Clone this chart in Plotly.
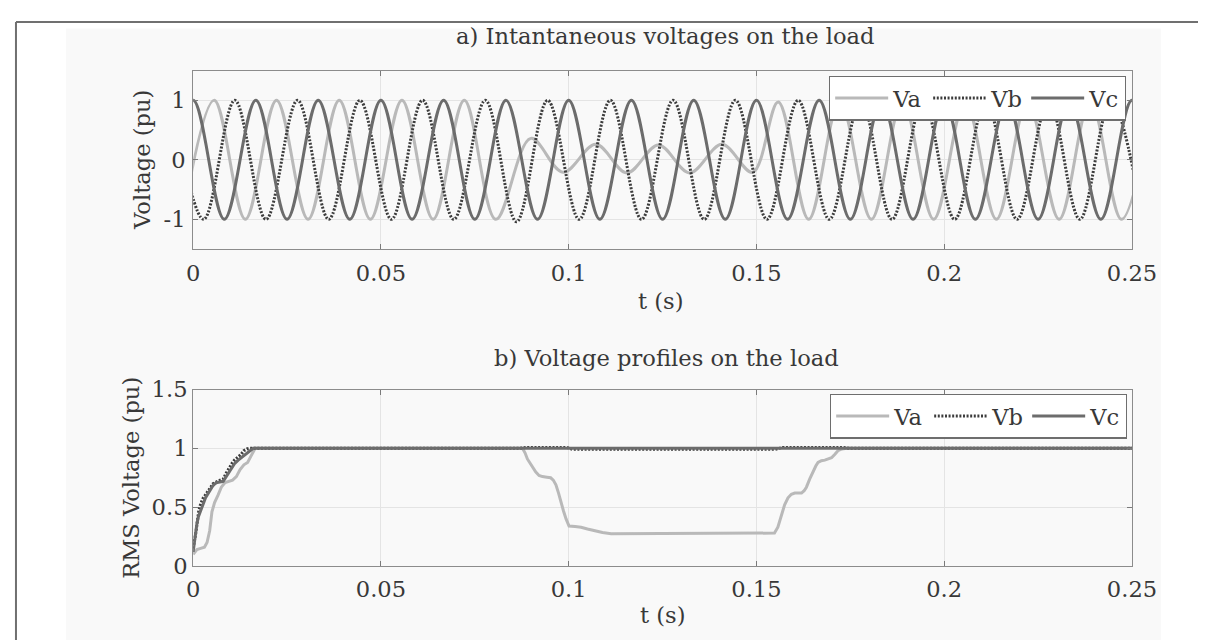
import plotly.graph_objects as go

# ---------------- data ----------------
# a) instantaneous voltages: times (s) and values (pu) of successive peaks / troughs
va_t = [-0.0028, 0.0056, 0.0139, 0.0222, 0.0306, 0.0389, 0.0472, 0.0556, 0.0639, 0.0722,
        0.0806, 0.0899, 0.0985, 0.1072, 0.1155, 0.1239, 0.1322, 0.1408, 0.1490, 0.1558,
        0.1639, 0.1722, 0.1806, 0.1889, 0.1972, 0.2056, 0.2139, 0.2222, 0.2306, 0.2389,
        0.2472, 0.2556]
va_v = [-1, 1, -1, 1, -1, 1, -1, 1, -1, 1,
        -1, 0.36, -0.21, 0.26, -0.22, 0.25, -0.22, 0.26, -0.21, 0.97,
        -1, 1, -1, 1, -1, 1, -1, 1, -1, 1,
        -1, 1]

vb_t = [-0.0056, 0.0028, 0.0111, 0.0194, 0.0278, 0.0361, 0.0444, 0.0528, 0.0611, 0.0694,
        0.0778, 0.0861, 0.0944, 0.1028, 0.1111, 0.1194, 0.1278, 0.1361, 0.1444, 0.1528,
        0.1611, 0.1694, 0.1778, 0.1861, 0.1944, 0.2028, 0.2111, 0.2194, 0.2278, 0.2361,
        0.2444, 0.2528]
vb_v = [1, -1, 1, -1, 1, -1, 1, -1, 1, -1,
        1, -1.04, 1, -1, 1, -1, 1, -1, 1, -1,
        1, -1, 1, -1, 1, -1, 1, -1, 1, -1,
        1, -1]

vc_t = [-0.0083, 0.0, 0.0083, 0.0167, 0.0250, 0.0333, 0.0417, 0.0500, 0.0583, 0.0667,
        0.0750, 0.0833, 0.0917, 0.1000, 0.1083, 0.1167, 0.1250, 0.1333, 0.1417, 0.1500,
        0.1583, 0.1667, 0.1750, 0.1833, 0.1917, 0.2000, 0.2083, 0.2167, 0.2250, 0.2333,
        0.2417, 0.2500, 0.2583]
vc_v = [-1, 1, -1, 1, -1, 1, -1, 1, -1, 1,
        -1, 1, -1, 1, -1, 1, -1, 1, -1, 1,
        -1, 1, -1, 1, -1, 1, -1, 1, -1, 1,
        -1, 1, -1]

# b) RMS voltage profiles
rms_a_t = [0, 0.001, 0.002, 0.003, 0.0037, 0.0044, 0.005, 0.0057, 0.0066, 0.0075, 0.0085,
           0.0095, 0.0105, 0.0115, 0.0125, 0.0135, 0.0145, 0.0155, 0.0165, 0.0877, 0.0884,
           0.089, 0.0901, 0.0912, 0.0921, 0.093, 0.0942, 0.0952, 0.0959, 0.0966, 0.0973,
           0.0979, 0.0986, 0.0993, 0.1001, 0.1017, 0.1033, 0.1050, 0.1068, 0.109, 0.1113,
           0.1135, 0.1157, 0.1548, 0.1557, 0.1566, 0.1575, 0.1584, 0.1593, 0.1602, 0.162,
           0.1627, 0.1633, 0.1642, 0.1651, 0.1658, 0.1664, 0.1673, 0.1682, 0.170, 0.1709,
           0.1717, 0.1728, 0.174, 0.25]
rms_a_v = [0.1, 0.14, 0.15, 0.16, 0.2, 0.3, 0.46, 0.54, 0.6, 0.67, 0.71,
           0.72, 0.73, 0.76, 0.82, 0.86, 0.88, 0.94, 1.0, 1.0, 0.96,
           0.91, 0.85, 0.80, 0.77, 0.76, 0.755, 0.75, 0.73, 0.69, 0.62,
           0.545, 0.47, 0.40, 0.34, 0.335, 0.33, 0.315, 0.30, 0.285, 0.275,
           0.275, 0.28, 0.28, 0.33, 0.42, 0.52, 0.58, 0.61, 0.62, 0.62,
           0.64, 0.67, 0.74, 0.81, 0.85, 0.88, 0.895, 0.90, 0.92, 0.95,
           0.98, 0.995, 1.0, 1.0]

rms_b_t = [0, 0.0004, 0.0008, 0.0012, 0.0015, 0.002, 0.0027, 0.0034, 0.004, 0.0047,
           0.0053, 0.0065, 0.008, 0.0088, 0.0095, 0.0103, 0.011, 0.012, 0.0128, 0.0135,
           0.0143, 0.015, 0.087, 0.089, 0.0995, 0.101, 0.155, 0.157, 0.173, 0.175, 0.25]
rms_b_v = [0.15, 0.22, 0.3, 0.4, 0.47, 0.53, 0.58, 0.61, 0.64, 0.67,
           0.70, 0.72, 0.74, 0.79, 0.83, 0.87, 0.90, 0.93, 0.95, 0.98,
           0.995, 1.0, 1.0, 1.008, 1.008, 0.992, 0.992, 1.008, 1.008, 1.0, 1.0]

rms_c_t = [0, 0.0004, 0.0007, 0.001, 0.0014, 0.002, 0.0027, 0.0033, 0.004, 0.0046,
           0.0052, 0.0058, 0.0064, 0.008, 0.009, 0.0099, 0.011, 0.012, 0.0132, 0.0144,
           0.0152, 0.016, 0.25]
rms_c_v = [0.12, 0.22, 0.3, 0.36, 0.42, 0.48, 0.53, 0.58, 0.62, 0.65,
           0.68, 0.70, 0.71, 0.72, 0.77, 0.82, 0.87, 0.90, 0.93, 0.96,
           0.985, 1.0, 1.0]

x_ticks = [0, 0.05, 0.1, 0.15, 0.2, 0.25]
x_ticktext = ["0", "0.05", "0.1", "0.15", "0.2", "0.25"]
y1_ticks = [-1, 0, 1]
y1_ticktext = ["-1", "0", "1"]
y2_ticks = [0, 0.5, 1, 1.5]
y2_ticktext = ["0", "0.5", "1", "1.5"]
names = ["Va", "Vb", "Vc"]

# ---------------- styling ----------------
# observed mapping from figure pixels to the photographed picture
SX, OX = 0.973, 15.0
SY, OY = 0.957, 19.6
W, H = 1224, 648
FONT = "DejaVu Serif"
FS = 22.6
TXT = "#383838"
COL_A, COL_B, COL_C = "#b9b9b9", "#3c3c3c", "#6c6c6c"
DOT = "2px,1.6px"


def px_x(p):
    """target picture pixel -> paper x"""
    return ((p - OX) / SX) / W


def px_y(p):
    """target picture pixel -> paper y"""
    return 1 - ((p - OY) / SY) / H


fig = go.Figure()

styles = [dict(color=COL_A, width=3), dict(color=COL_B, width=3, dash=DOT),
          dict(color=COL_C, width=3)]

for tt, vv, nm, st in zip([va_t, vb_t, vc_t], [va_v, vb_v, vc_v], names, styles):
    fig.add_trace(go.Scatter(x=tt, y=vv, name=nm, mode="lines",
                             line=dict(shape="spline", smoothing=1, **st),
                             xaxis="x", yaxis="y", legend="legend"))

for tt, vv, nm, st in zip([rms_a_t, rms_b_t, rms_c_t], [rms_a_v, rms_b_v, rms_c_v], names, styles):
    fig.add_trace(go.Scatter(x=tt, y=vv, name=nm, mode="lines",
                             line=dict(shape="linear", **st),
                             xaxis="x2", yaxis="y2", legend="legend2"))

xdom = [px_x(193), px_x(1131)]
axis_common = dict(showgrid=True, gridcolor="#e4e4e4", gridwidth=1, zeroline=False,
                   showline=True, linecolor="#8c8c8c", linewidth=1.2, mirror="ticks",
                   ticks="inside", ticklen=5, tickcolor="#7a7a7a",
                   tickfont=dict(family=FONT, size=FS, color=TXT))

leg_common = dict(orientation="h", xanchor="right", yanchor="top",
                  bgcolor="white", bordercolor="#6e6e6e", borderwidth=1.2,
                  font=dict(family=FONT, size=FS, color=TXT),
                  entrywidth=30, entrywidthmode="pixels", itemwidth=53,
                  tracegroupgap=0)

fig.update_layout(
    width=W, height=H,
    margin=dict(l=0, r=0, t=0, b=0),
    paper_bgcolor="white", plot_bgcolor="white",
    showlegend=True,
    xaxis=dict(domain=xdom, range=[0, 0.25], tickvals=x_ticks, ticktext=x_ticktext,
               anchor="y", ticklabelstandoff=4, **axis_common),
    yaxis=dict(domain=[px_y(247), px_y(69)], range=[-1.5, 1.5], tickvals=y1_ticks,
               ticktext=y1_ticktext, anchor="x", ticklabelstandoff=2, **axis_common),
    xaxis2=dict(domain=xdom, range=[0, 0.25], tickvals=x_ticks, ticktext=x_ticktext,
                anchor="y2", ticklabelstandoff=3, **axis_common),
    yaxis2=dict(domain=[px_y(563), px_y(387)], range=[0, 1.5], tickvals=y2_ticks,
                ticktext=y2_ticktext, anchor="x2", ticklabelstandoff=0, **axis_common),
    legend=dict(x=px_x(1125), y=px_y(74), **leg_common),
    legend2=dict(x=px_x(1126), y=px_y(391), **leg_common),
)

# background panel and frame lines
fig.add_shape(type="rect", xref="paper", yref="paper", x0=px_x(66), x1=px_x(1160),
              y0=0, y1=px_y(27), fillcolor="#f9f9f9", line=dict(width=0), layer="below")
fig.add_shape(type="line", xref="paper", yref="paper", x0=1 / W, x1=1,
              y0=1 - 1 / H, y1=1 - 1 / H, line=dict(color="#707070", width=2))
fig.add_shape(type="line", xref="paper", yref="paper", x0=1 / W, x1=1 / W,
              y0=0, y1=1 - 1 / H, line=dict(color="#707070", width=2))

ann_font = dict(family=FONT, size=FS, color=TXT)
annotations = [
    dict(text="a) Intantaneous voltages on the load", x=px_x(664), y=px_y(35)),
    dict(text="b) Voltage profiles on the load", x=px_x(666), y=px_y(356)),
    dict(text="t (s)", x=px_x(660), y=px_y(299)),
    dict(text="t (s)", x=px_x(662), y=px_y(612)),
    dict(text="Voltage (pu)", x=px_x(142), y=px_y(158), textangle=-90),
    dict(text="RMS Voltage (pu)", x=px_x(131), y=px_y(475), textangle=-90),
]
for a in annotations:
    fig.add_annotation(xref="paper", yref="paper", xanchor="center", yanchor="middle",
                       showarrow=False, font=ann_font, **a)

fig.write_html("out.html")
